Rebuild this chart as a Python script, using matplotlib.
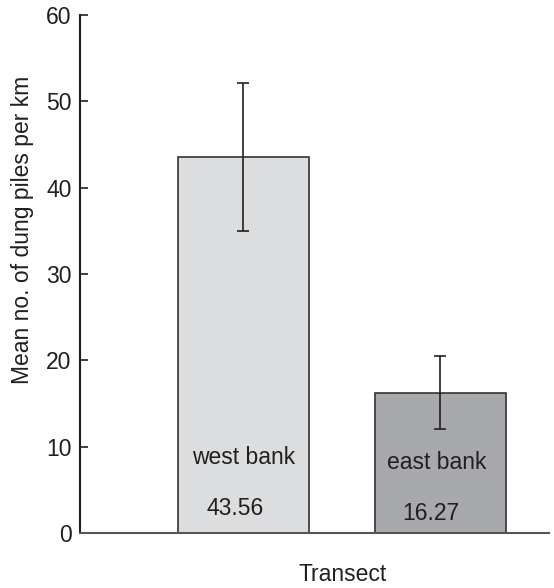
import matplotlib
matplotlib.use("Agg")
import matplotlib.pyplot as plt

# data
banks = ["west bank", "east bank"]
means = [43.56, 16.27]
errors = [8.6, 4.25]
mean_labels = ["43.56", "16.27"]
colors = ["#dcdddf", "#a8a9ac"]
yticks = [0, 10, 20, 30, 40, 50, 60]

plt.rcParams['font.family'] = ['Liberation Sans', 'DejaVu Sans']
text_color = "#231f20"
fs = 16.5

fig = plt.figure(figsize=(5.54, 5.88), dpi=100)
ax = fig.add_axes([80 / 554, 55 / 588, 469 / 554, 518 / 588])

x = [0, 1]
ax.bar(x, means, width=0.665, color=colors, edgecolor="#333333", linewidth=1.2, zorder=2)
ax.errorbar(x, means, yerr=errors, fmt="none", ecolor="#231f20", elinewidth=1.2,
            capsize=4, capthick=1.2, zorder=3)

# labels inside the bars
name_pos = [(0, 8.8), (0.98, 8.2)]
val_pos = [(-0.04, 2.8), (0.95, 2.3)]
for i in range(len(banks)):
    ax.text(name_pos[i][0], name_pos[i][1], banks[i], ha="center", va="center",
            fontsize=fs, color=text_color)
    ax.text(val_pos[i][0], val_pos[i][1], mean_labels[i], ha="center", va="center",
            fontsize=fs, color=text_color)

ax.set_xlim(-0.83, 1.551)
ax.set_ylim(0, 60)
ax.set_yticks(yticks)
ax.set_xticks([])
ax.tick_params(axis="y", direction="in", length=6, width=1.2, labelsize=fs,
               colors="#231f20", pad=6)

ax.spines["top"].set_visible(False)
ax.spines["right"].set_visible(False)
ax.spines["left"].set_linewidth(1.5)
ax.spines["left"].set_color("#231f20")
ax.spines["bottom"].set_linewidth(1.5)
ax.spines["bottom"].set_color("#555555")

ax.set_ylabel("Mean no. of dung piles per km", fontsize=fs, color=text_color, va="center")
ax.yaxis.set_label_coords(-0.122, 0.585)
ax.set_xlabel("Transect", fontsize=fs, color=text_color, va="center")
ax.xaxis.set_label_coords(0.561, -0.081)

fig.savefig("out.png", dpi=100)
